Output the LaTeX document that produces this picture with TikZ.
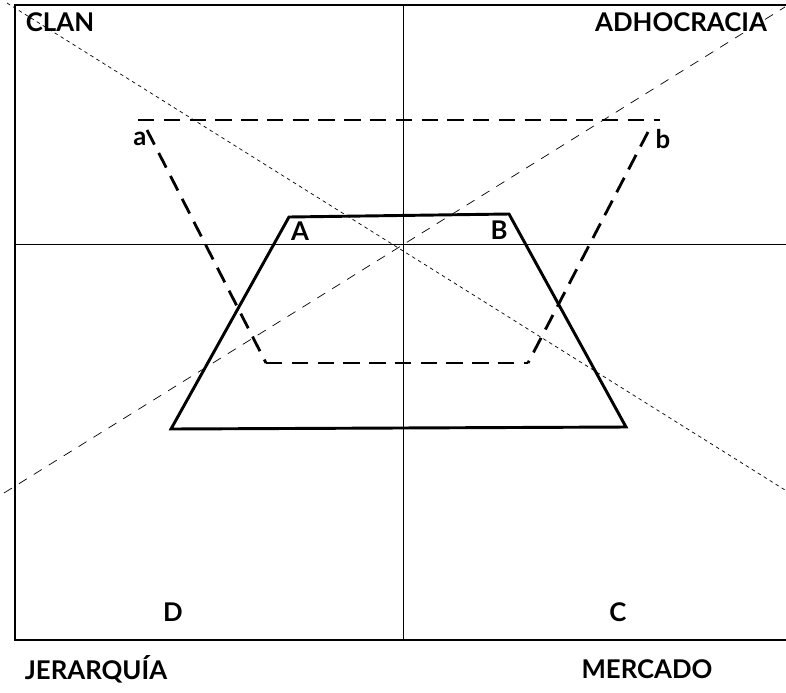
\documentclass[tikz,border=0pt]{standalone}
\usepackage{fontspec}
\setmainfont{Lato}
\begin{document}
\begin{tikzpicture}[x=0.03cm, y=-0.03cm, lbl/.style={font=\fontsize{22}{22}\selectfont\bfseries}]
 \useasboundingbox (0,0) rectangle (786,692);
 % frame and axes
 \coordinate (tl) at (15,5);
 \coordinate (tr) at (786,5);
 \coordinate (bl) at (15,640);
 \coordinate (br) at (786,640);
 \coordinate (mt) at (403,5);
 \coordinate (mb) at (403,640);
 \coordinate (ml) at (15,244);
 \coordinate (mr) at (786,244);
 \draw[line width=0.8pt] (mt) -- (mb);
 \draw[line width=0.8pt] (ml) -- (mr);
 \draw[line width=2.2pt] (tr) -- (tl) -- (bl) -- (br);
 % diagonals
 \coordinate (d1s) at (7,3);
 \coordinate (d1e) at (785,490);
 \coordinate (d2s) at (4,493);
 \coordinate (d2e) at (785,7);
 \draw[line width=0.6pt, dash pattern=on 3pt off 3pt] (d1s) -- (d1e);
 \draw[line width=0.6pt, dash pattern=on 8pt off 7pt] (d2s) -- (d2e);
 % inverted trapezoid a-b
 \coordinate (pa) at (138,120);
 \coordinate (pb) at (660,120);
 \coordinate (pc) at (528,363);
 \coordinate (pd) at (266,363);
 \draw[line width=2.4pt, dash pattern=on 14pt off 8pt] (pa) -- (pb);
 \draw[line width=2.4pt, dash pattern=on 14pt off 8pt] (pd) -- (pc);
 \draw[line width=2.4pt, dash pattern=on 14pt off 8pt] (147,130) -- (pd);
 \draw[line width=2.4pt, dash pattern=on 14pt off 8pt] (648,132) -- (pc);
 % trapezoid A-B
 \coordinate (qa) at (289,217);
 \coordinate (qb) at (509,214);
 \coordinate (qc) at (626,427);
 \coordinate (qd) at (171,429);
 \draw[line width=2.5pt, line join=miter] (qa) -- (qb) -- (qc) -- (qd) -- cycle;
 % labels
 \node[lbl] (clan) at (60,22) {CLAN};
 \node[lbl] (adh) at (681,22) {ADHOCRACIA};
 \node[lbl] (la) at (140,139) {a};
 \node[lbl] (lb) at (663,139) {b};
 \node[lbl] (lA) at (300,231) {A};
 \node[lbl] (lB) at (499,230) {B};
 \node[lbl] (lD) at (173,612) {D};
 \node[lbl] (lC) at (618,612) {C};
 \node[lbl] (jer) at (96,669) {JERARQUÍA};
 \node[lbl] (mer) at (647,669) {MERCADO};
\end{tikzpicture}
\end{document}
